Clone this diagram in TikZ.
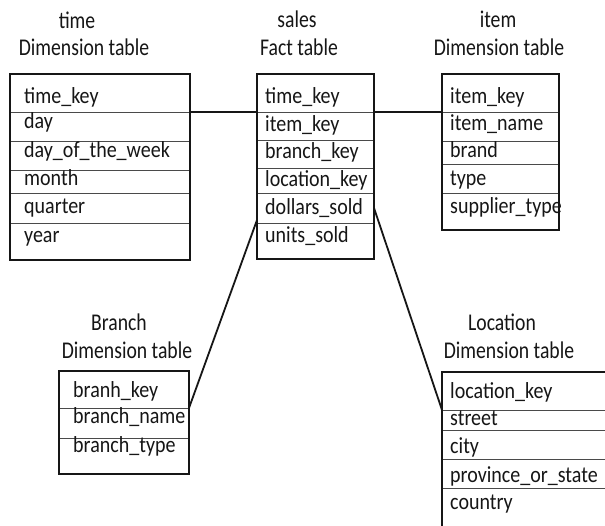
\documentclass[tikz,border=0pt]{standalone}
\usepackage{fontspec}
\setmainfont{Carlito}
\usepackage{graphicx}
\usetikzlibrary{fit,calc}
\definecolor{ink}{HTML}{161616}
\definecolor{rowline}{HTML}{4A4A4A}
\newcommand{\rowtxt}[1]{\scalebox{0.87}[1]{#1}}
\newcommand{\ttltxt}[1]{\scalebox{0.82}[1]{#1}}
\begin{document}
\begin{tikzpicture}[x=1pt,y=-1pt,
  row/.style={draw=rowline, line width=0.9pt, inner sep=0pt, outer sep=0pt, anchor=north west},
  frame/.style={draw=ink, line width=1.9pt, inner sep=0pt, outer sep=0pt},
  cell/.style={anchor=base west, inner sep=0pt, text=ink, font=\fontsize{23}{28}\selectfont},
  title/.style={anchor=base, inner sep=0pt, text=ink, font=\fontsize{24}{28}\selectfont},
  link/.style={draw=ink, line width=1.8pt}]
\path[use as bounding box, fill=white] (0,0) rectangle (605,525);
\clip (0,0) rectangle (605,525);

% time dimension table
\foreach \i/\a/\b/\bl/\t in {1/74/112/103/time\_key, 2/112/141/128/day, 3/141/170/157/day\_of\_the\_week, 4/170/193/185/month, 5/193/223/213/quarter, 6/223/260/242/year}{
  \pgfmathsetmacro{\h}{\b-\a}
  \node[row, minimum width=180pt, minimum height=\h pt] (t\i) at (10,\a) {};
  \node[cell] (tt\i) at (24,\bl) {\rowtxt{\t}};
}
% sales fact table
\foreach \i/\a/\b/\bl/\t in {1/74/112/103/time\_key, 2/112/140/131/item\_key, 3/140/168/158/branch\_key, 4/168/193/186/location\_key, 5/193/223/214/dollars\_sold, 6/223/259/242/units\_sold}{
  \pgfmathsetmacro{\h}{\b-\a}
  \node[row, minimum width=117pt, minimum height=\h pt] (s\i) at (257,\a) {};
  \node[cell] (st\i) at (265,\bl) {\rowtxt{\t}};
}
% item dimension table
\foreach \i/\a/\b/\bl/\t in {1/74/112/103/item\_key, 2/112/141/130/item\_name, 3/141/164/157/brand, 4/164/193/185/type, 5/193/230/213/supplier\_type}{
  \pgfmathsetmacro{\h}{\b-\a}
  \node[row, minimum width=117pt, minimum height=\h pt] (i\i) at (442,\a) {};
  \node[cell] (it\i) at (450,\bl) {\rowtxt{\t}};
}
% branch dimension table
\foreach \i/\a/\b/\bl/\t in {1/371/408/397/branh\_key, 2/408/438/423/branch\_name, 3/438/474/452/branch\_type}{
  \pgfmathsetmacro{\h}{\b-\a}
  \node[row, minimum width=130pt, minimum height=\h pt] (b\i) at (59,\a) {};
  \node[cell] (bt\i) at (73,\bl) {\rowtxt{\t}};
}
% location dimension table
\foreach \i/\a/\b/\bl/\t in {1/372/410/398/location\_key, 2/410/430/425/street, 3/430/459/453/city, 4/459/488/482/province\_or\_state, 5/488/545/509/country}{
  \pgfmathsetmacro{\h}{\b-\a}
  \node[row, minimum width=200pt, minimum height=\h pt] (l\i) at (442,\a) {};
  \node[cell] (lt\i) at (450,\bl) {\rowtxt{\t}};
}

% outer frames
\node[frame, fit=(t1)(t6)] (time) {};
\node[frame, fit=(s1)(s6)] (sales) {};
\node[frame, fit=(i1)(i5)] (item) {};
\node[frame, fit=(b1)(b3)] (branch) {};
\node[frame, fit=(l1)(l5)] (location) {};

% titles
\node[title] (ttime1) at (77,28) {\ttltxt{time}};
\node[title] (ttime2) at (84,55) {\ttltxt{Dimension table}};
\node[title] (tsales1) at (297,27) {\ttltxt{sales}};
\node[title] (tsales2) at (299,55) {\ttltxt{Fact table}};
\node[title] (titem1) at (498,27) {\ttltxt{item}};
\node[title] (titem2) at (499,55) {\ttltxt{Dimension table}};
\node[title] (tbranch1) at (119,330) {\ttltxt{Branch}};
\node[title] (tbranch2) at (127,358) {\ttltxt{Dimension table}};
\node[title] (tloc1) at (502,330) {\ttltxt{Location}};
\node[title] (tloc2) at (509,358) {\ttltxt{Dimension table}};

% connectors
\draw[link] (t1.south east) -- (s1.south west);
\draw[link] (s1.south east) -- (i1.south west);
\draw[link] ($(s5.south west)+(0,-3)$) -- (b1.south east);
\draw[link] (s5.east) -- (l1.south west);
\end{tikzpicture}
\end{document}
